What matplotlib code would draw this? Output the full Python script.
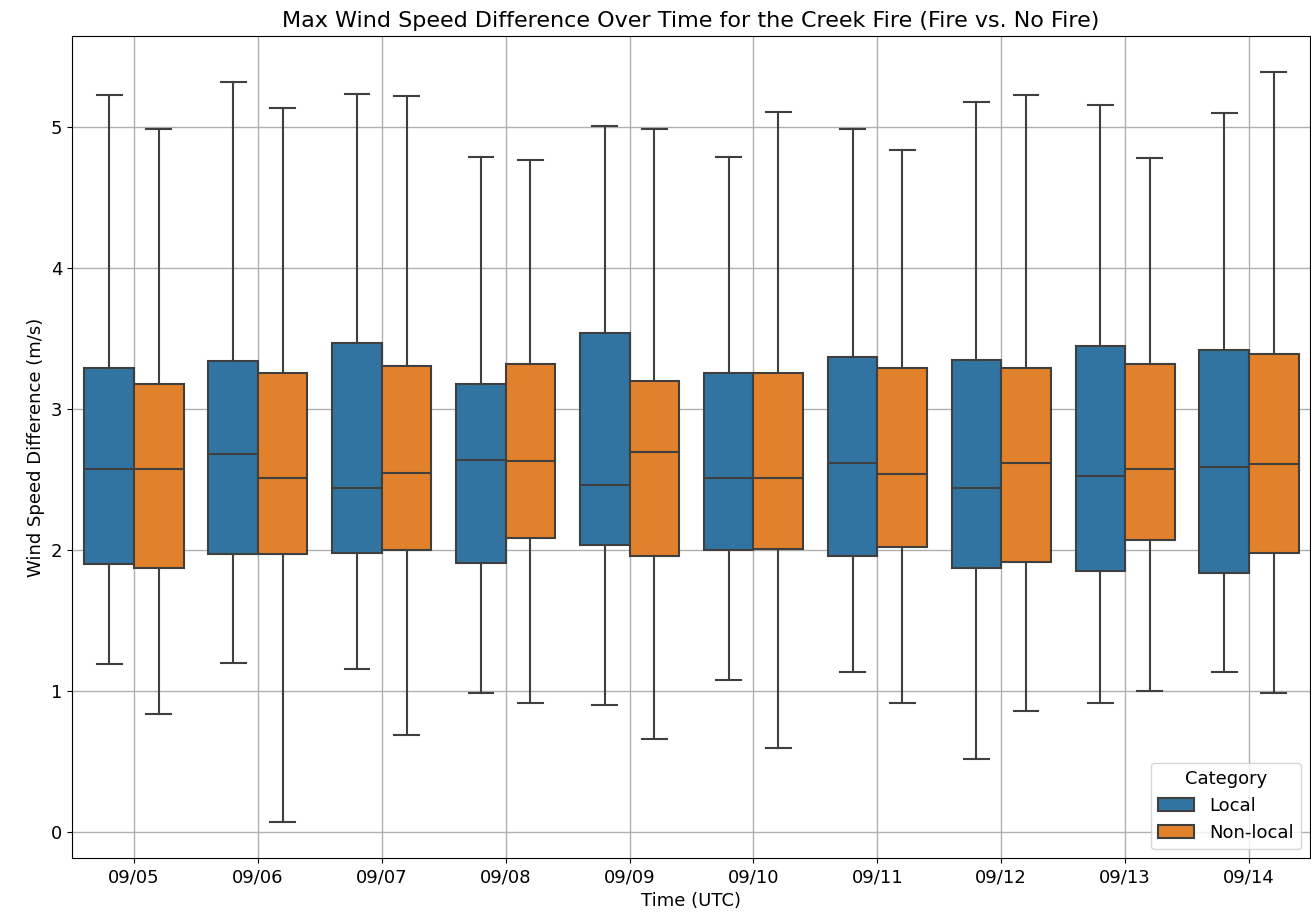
import matplotlib
matplotlib.use("Agg")
import matplotlib.pyplot as plt
import matplotlib.patches as patches

# day labels and box statistics (whisker low, Q1, median, Q3, whisker high) in m/s
days = ["09/05", "09/06", "09/07", "09/08", "09/09",
        "09/10", "09/11", "09/12", "09/13", "09/14"]

local_whislo = [1.19, 1.20, 1.16, 0.99, 0.90, 1.08, 1.14, 0.52, 0.92, 1.14]
local_q1 = [1.90, 1.97, 1.98, 1.91, 2.04, 2.00, 1.96, 1.875, 1.85, 1.84]
local_med = [2.58, 2.68, 2.44, 2.64, 2.46, 2.51, 2.62, 2.44, 2.53, 2.59]
local_q3 = [3.29, 3.34, 3.47, 3.18, 3.54, 3.26, 3.37, 3.35, 3.45, 3.42]
local_whishi = [5.23, 5.32, 5.24, 4.79, 5.01, 4.79, 4.99, 5.18, 5.16, 5.10]

nonlocal_whislo = [0.84, 0.07, 0.69, 0.92, 0.66, 0.60, 0.92, 0.86, 1.00, 0.99]
nonlocal_q1 = [1.875, 1.97, 2.00, 2.09, 1.96, 2.01, 2.02, 1.92, 2.07, 1.98]
nonlocal_med = [2.58, 2.51, 2.55, 2.63, 2.70, 2.51, 2.54, 2.62, 2.58, 2.61]
nonlocal_q3 = [3.18, 3.26, 3.31, 3.32, 3.20, 3.26, 3.29, 3.29, 3.32, 3.39]
nonlocal_whishi = [4.99, 5.14, 5.22, 4.77, 4.99, 5.11, 4.84, 5.23, 4.78, 5.39]

categories = ["Local", "Non-local"]
colors = ["#3274a1", "#e1812c"]
edge = "#3f3f3f"


def make_stats(lo, q1, med, q3, hi):
    return [dict(whislo=a, q1=b, med=c, q3=d, whishi=e, fliers=[])
            for a, b, c, d, e in zip(lo, q1, med, q3, hi)]


series = [
    make_stats(local_whislo, local_q1, local_med, local_q3, local_whishi),
    make_stats(nonlocal_whislo, nonlocal_q1, nonlocal_med, nonlocal_q3, nonlocal_whishi),
]

plt.rcParams["font.size"] = 13

fig = plt.figure(figsize=(13.11, 9.16), dpi=100)
ax = fig.add_axes([0.055, 0.063, 0.944, 0.898])
ax.set_axisbelow(True)
ax.grid(True, color="#b0b0b0", linewidth=1.0)

offsets = [-0.2, 0.2]
for stats, off, color in zip(series, offsets, colors):
    pos = [i + off for i in range(len(days))]
    ax.bxp(stats, positions=pos, widths=0.4, capwidths=0.2,
           patch_artist=True, showfliers=False,
           boxprops=dict(facecolor=color, edgecolor=edge, linewidth=1.5),
           medianprops=dict(color=edge, linewidth=1.5),
           whiskerprops=dict(color=edge, linewidth=1.5),
           capprops=dict(color=edge, linewidth=1.5))

ax.set_xticks(range(len(days)))
ax.set_xticklabels(days)
ax.set_xlim(-0.5, 9.49)
ax.set_ylim(-0.185, 5.65)
ax.set_yticks([0, 1, 2, 3, 4, 5])

ax.set_title("Max Wind Speed Difference Over Time for the Creek Fire (Fire vs. No Fire)",
             fontsize=16)
ax.set_xlabel("Time (UTC)")
ax.set_ylabel("Wind Speed Difference (m/s)")

handles = [patches.Patch(facecolor=c, edgecolor=edge, linewidth=1.5, label=l)
           for c, l in zip(colors, categories)]
ax.legend(handles=handles, title="Category", title_fontsize=13, loc="lower right")

fig.savefig("out.png", dpi=100)
